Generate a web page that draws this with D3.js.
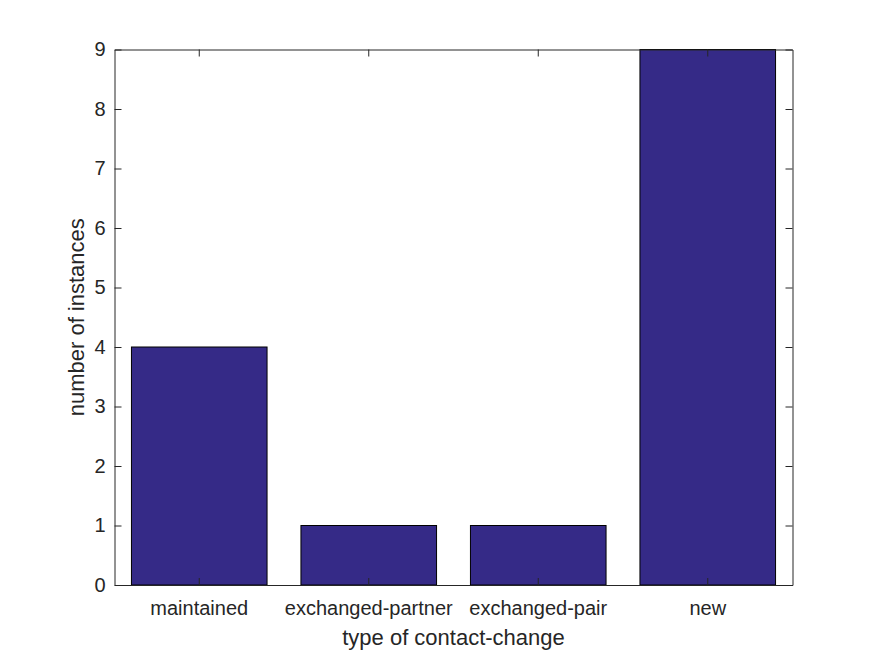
<!DOCTYPE html>
<html>
<head>
<meta charset="utf-8">
<script src="https://cdn.jsdelivr.net/npm/d3@7"></script>
<style>
  body { margin: 0; background: #fff; }
  text { font-family: "Liberation Sans", Arial, sans-serif; fill: #262626; }
</style>
</head>
<body>
<div id="chart"></div>
<script>
// Data
var categories = ["maintained", "exchanged-partner", "exchanged-pair", "new"];
var counts = [4, 1, 1, 9];
var yTicks = [0, 1, 2, 3, 4, 5, 6, 7, 8, 9];

var svgWidth = 875;
var svgHeight = 656;

var margin = { top: 49.5, right: 82.5, bottom: 71, left: 114.5 };
var width = svgWidth - margin.left - margin.right;
var height = svgHeight - margin.top - margin.bottom;

var svg = d3.select("#chart")
  .append("svg")
  .attr("width", svgWidth)
  .attr("height", svgHeight);

var chartGroup = svg.append("g")
  .attr("transform", `translate(${margin.left}, ${margin.top})`);

// Scales
var xScale = d3.scaleBand()
  .domain(categories)
  .range([0, width])
  .paddingInner(0.2)
  .paddingOuter(0.1);

var yScale = d3.scaleLinear()
  .domain([0, 9])
  .range([height, 0]);

// Bars
chartGroup.selectAll("rect.bar")
  .data(categories)
  .enter()
  .append("rect")
  .classed("bar", true)
  .attr("x", d => xScale(d))
  .attr("y", (d, i) => yScale(counts[i]))
  .attr("width", xScale.bandwidth())
  .attr("height", (d, i) => yScale(0) - yScale(counts[i]))
  .attr("fill", "#352a87")
  .attr("stroke", "#000")
  .attr("stroke-width", 1);

var tickLen = 7;
var axisColor = "#262626";

// Bottom axis (ticks inward)
var bottomAxis = d3.axisBottom(xScale).tickSizeInner(-tickLen).tickSizeOuter(0).tickPadding(16);
var xAxis = chartGroup.append("g")
  .attr("transform", `translate(0, ${height})`)
  .call(bottomAxis);

// Top axis, no labels
var topAxis = d3.axisTop(xScale).tickSizeInner(-tickLen).tickSizeOuter(0).tickFormat("");
var xAxisTop = chartGroup.append("g").call(topAxis);

// Left axis
var leftAxis = d3.axisLeft(yScale).tickValues(yTicks).tickSizeInner(-tickLen).tickSizeOuter(0).tickPadding(9);
var yAxis = chartGroup.append("g").call(leftAxis);

// Right axis, no labels
var rightAxis = d3.axisRight(yScale).tickValues(yTicks).tickSizeInner(-tickLen).tickSizeOuter(0).tickFormat("");
var yAxisRight = chartGroup.append("g")
  .attr("transform", `translate(${width}, 0)`)
  .call(rightAxis);

[xAxis, xAxisTop, yAxis, yAxisRight].forEach(function(ax) {
  ax.selectAll("path.domain").attr("stroke", axisColor).attr("stroke-width", 1);
  ax.selectAll(".tick line").attr("stroke", axisColor);
  ax.selectAll(".tick text")
    .attr("fill", axisColor)
    .style("font-size", "20px")
    .style("font-family", "'Liberation Sans', Arial, sans-serif");
});

// Axis labels
chartGroup.append("text")
  .attr("x", width / 2)
  .attr("y", height + 60)
  .attr("text-anchor", "middle")
  .style("font-size", "22px")
  .text("type of contact-change");

chartGroup.append("text")
  .attr("transform", "rotate(-90)")
  .attr("x", -height / 2)
  .attr("y", -31)
  .attr("text-anchor", "middle")
  .style("font-size", "22px")
  .text("number of instances");
</script>
</body>
</html>
